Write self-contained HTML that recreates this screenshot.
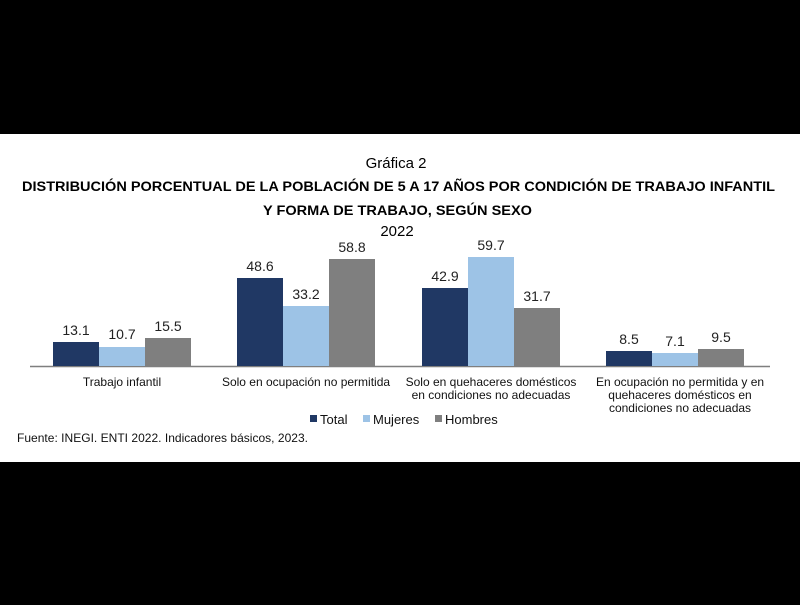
<!DOCTYPE html>
<html><head><meta charset="utf-8"><style>
body{margin:0;background:#000;}
</style></head><body>
<svg width="800" height="600" xmlns="http://www.w3.org/2000/svg" font-family="Liberation Sans, sans-serif">
<rect width="800" height="600" fill="#000"/>
<rect x="0" y="134" width="800" height="328" fill="#fff"/>
<text x="396" y="168" font-size="15" text-anchor="middle">Gráfica 2</text>
<text x="22" y="191" font-size="13.5" font-weight="bold" textLength="753" lengthAdjust="spacingAndGlyphs">DISTRIBUCIÓN  PORCENTUAL  DE LA POBLACIÓN DE 5 A 17 AÑOS POR CONDICIÓN DE TRABAJO  INFANTIL</text>
<text x="263" y="215" font-size="13.5" font-weight="bold" textLength="269" lengthAdjust="spacingAndGlyphs">Y FORMA  DE TRABAJO,  SEGÚN SEXO</text>
<text x="397" y="236" font-size="15" text-anchor="middle">2022</text>
<line x1="30" y1="366.5" x2="770" y2="366.5" stroke="#7f7f7f" stroke-width="1.5"/>
<g font-size="14" text-anchor="middle" fill="#222">
<rect x="53" y="342" width="46" height="24" fill="#203864"/><text x="76" y="335">13.1</text>
<rect x="99" y="347" width="46" height="19" fill="#9dc3e6"/><text x="122" y="339">10.7</text>
<rect x="145" y="338" width="46" height="28" fill="#7f7f7f"/><text x="168" y="331">15.5</text>
<rect x="237" y="278" width="46" height="88" fill="#203864"/><text x="260" y="271">48.6</text>
<rect x="283" y="306" width="46" height="60" fill="#9dc3e6"/><text x="306" y="299">33.2</text>
<rect x="329" y="259" width="46" height="107" fill="#7f7f7f"/><text x="352" y="252">58.8</text>
<rect x="422" y="288" width="46" height="78" fill="#203864"/><text x="445" y="281">42.9</text>
<rect x="468" y="257" width="46" height="109" fill="#9dc3e6"/><text x="491" y="250">59.7</text>
<rect x="514" y="308" width="46" height="58" fill="#7f7f7f"/><text x="537" y="301">31.7</text>
<rect x="606" y="351" width="46" height="15" fill="#203864"/><text x="629" y="344">8.5</text>
<rect x="652" y="353" width="46" height="13" fill="#9dc3e6"/><text x="675" y="346">7.1</text>
<rect x="698" y="349" width="46" height="17" fill="#7f7f7f"/><text x="721" y="342">9.5</text>
</g>
<g font-size="12" text-anchor="middle" fill="#111">
<text x="122" y="386">Trabajo infantil</text>
<text x="306" y="386">Solo en ocupación no permitida</text>
<text x="491" y="386">Solo en quehaceres domésticos</text>
<text x="491" y="399">en condiciones no adecuadas</text>
<text x="680" y="386">En ocupación no permitida y en</text>
<text x="680" y="399">quehaceres domésticos en</text>
<text x="680" y="412">condiciones no adecuadas</text>
</g>
<g font-size="13" fill="#111">
<rect x="310" y="415" width="7" height="7" fill="#203864"/><text x="320" y="424">Total</text>
<rect x="363" y="415" width="7" height="7" fill="#9dc3e6"/><text x="373" y="424">Mujeres</text>
<rect x="435" y="415" width="7" height="7" fill="#7f7f7f"/><text x="445" y="424">Hombres</text>
</g>
<text x="17" y="442" font-size="12" fill="#111" textLength="291" lengthAdjust="spacing">Fuente:  INEGI. ENTI 2022. Indicadores  básicos,  2023.</text>
</svg>
</body></html>
